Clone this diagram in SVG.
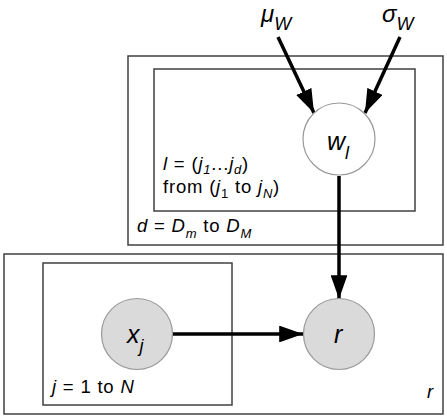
<svg xmlns="http://www.w3.org/2000/svg" width="447" height="419" viewBox="0 0 447 419">
<style>
text{font-family:"Liberation Sans",Arial,sans-serif;fill:#000}
.it{font-style:italic}
.plate{fill:none;stroke:#404040;stroke-width:1.5}
.edge{stroke:#000;stroke-width:3.5;fill:none;marker-end:url(#ah)}
.obs{fill:#dadada;stroke:#999;stroke-width:1.2}
.lat{fill:#fff;stroke:#999;stroke-width:1.2}
.lbl{font-size:18.5px;letter-spacing:0.8px}
.sub{font-size:13px}
</style>
<defs>
<marker id="ah" markerWidth="6.8" markerHeight="4.8" refX="6.8" refY="2.4" orient="auto" markerUnits="strokeWidth">
<path d="M0,0 L6.8,2.4 L0,4.8 Z" fill="#000"/>
</marker>
</defs>
<g id="plates">
<rect class="plate" x="128" y="56" width="315" height="189"/>
<rect class="plate" x="154" y="69" width="261" height="142"/>
<rect class="plate" x="4" y="254" width="439" height="160"/>
<rect class="plate" x="43" y="263" width="189" height="142"/>
</g>
<g id="edges">
<line class="edge" x1="278" y1="37" x2="314" y2="113"/>
<line class="edge" x1="400" y1="37" x2="365" y2="113"/>
<line class="edge" x1="339" y1="176" x2="339" y2="299"/>
<line class="edge" x1="173" y1="334" x2="303" y2="334"/>
</g>
<g id="mu">
<text class="it" x="261" y="22" font-size="24">μ<tspan font-size="18" dy="8">W</tspan></text>
</g>
<g id="sigma">
<text class="it" x="382" y="22" font-size="24">σ<tspan font-size="18" dy="8">W</tspan></text>
</g>
<g id="wl">
<circle class="lat" cx="339" cy="139" r="36"/>
<text class="it" x="327" y="150" font-size="25">w<tspan font-size="18" dy="9">l</tspan></text>
</g>
<g id="xj">
<circle class="obs" cx="137" cy="334" r="35.5"/>
<text class="it" x="127" y="343" font-size="25">x<tspan font-size="18" dy="9">j</tspan></text>
</g>
<g id="r">
<circle class="obs" cx="339" cy="334" r="35.5"/>
<text class="it" x="334" y="343" font-size="25">r</text>
</g>
<g id="labels">
<text class="lbl" x="163" y="170"><tspan class="it">l</tspan> = (<tspan class="it">j</tspan><tspan class="it sub" dy="3.5">1</tspan><tspan dy="-3.5">...</tspan><tspan class="it">j</tspan><tspan class="it sub" dy="3.5">d</tspan><tspan dy="-3.5">)</tspan></text>
<text class="lbl" x="163" y="193">from (<tspan class="it">j</tspan><tspan class="sub" dy="5">1</tspan><tspan dy="-5"> to </tspan><tspan class="it">j</tspan><tspan class="it sub" dy="5">N</tspan><tspan dy="-5">)</tspan></text>
<text class="lbl" x="137" y="232"><tspan class="it">d</tspan> = <tspan class="it">D</tspan><tspan class="it sub" dy="6">m</tspan><tspan dy="-6"> to </tspan><tspan class="it">D</tspan><tspan class="it sub" dy="6">M</tspan></text>
<text class="lbl" x="52" y="393"><tspan class="it">j</tspan> = 1 to <tspan class="it">N</tspan></text>
<text class="lbl it" x="427" y="398">r</text>
</g>
</svg>
